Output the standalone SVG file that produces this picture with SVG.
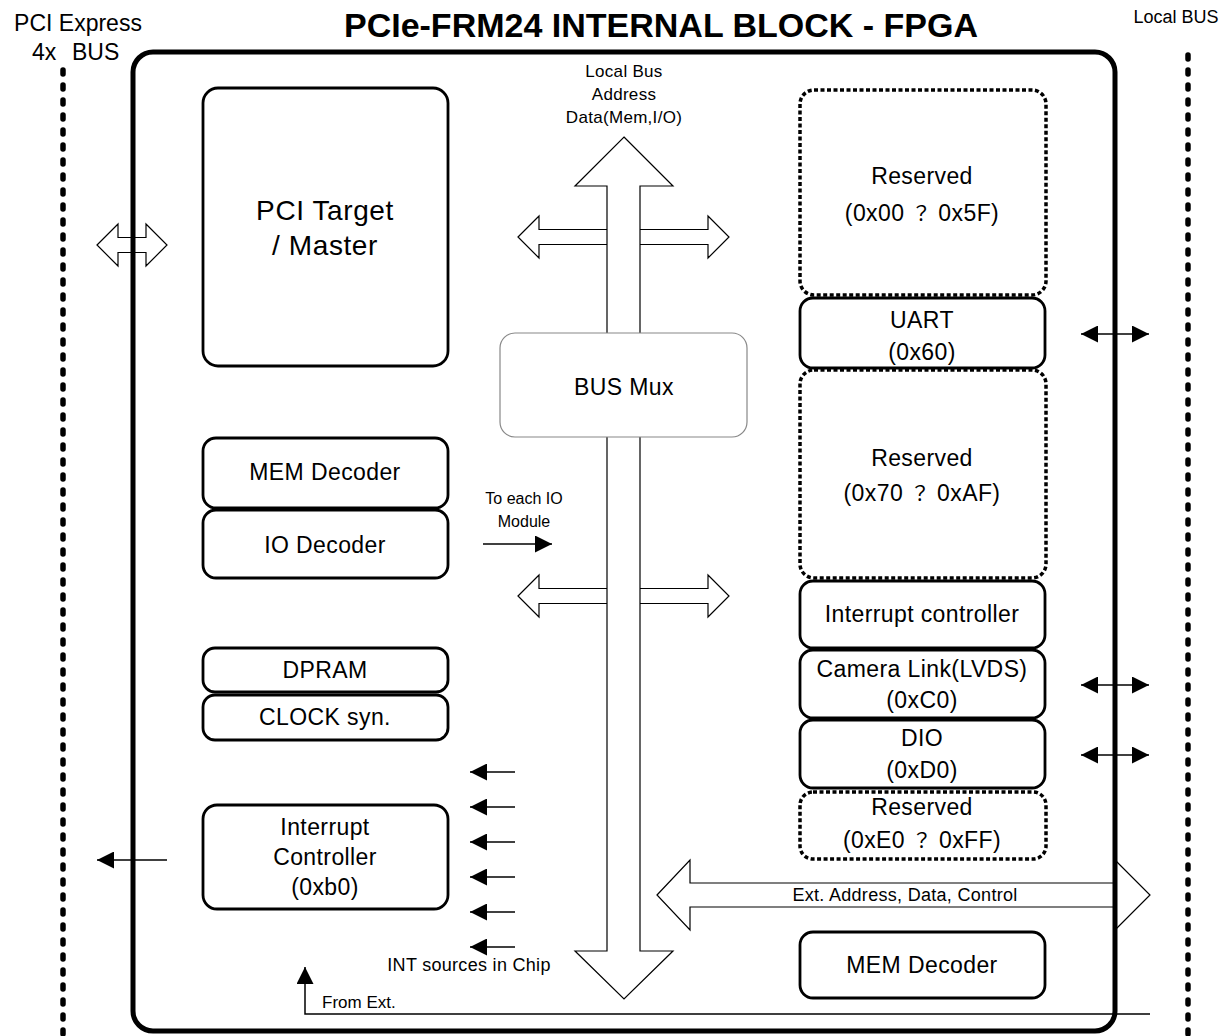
<svg xmlns="http://www.w3.org/2000/svg" width="1231" height="1036" viewBox="0 0 1231 1036">
<style>
text{font-family:"Liberation Sans",Arial,"Noto Sans CJK JP",sans-serif;fill:#000}
.c{text-anchor:middle}
.q{font-family:"Noto Sans CJK JP","Noto Sans CJK SC",sans-serif;font-size:20px}
.lbl{font-size:23px;letter-spacing:0.4px}
.big{font-size:28px;letter-spacing:0.6px}
.sm{font-size:17px;letter-spacing:0.3px}
.md{font-size:18px;letter-spacing:0.3px}
.box{fill:#fff;stroke:#000;stroke-width:2.8}
.dash{fill:#fff;stroke:#000;stroke-width:3.5;stroke-dasharray:4 2.5}
.hollow{fill:#fff;stroke:#000;stroke-width:1.2}
.ln{stroke:#000;stroke-width:1.5;fill:none}
.bus{stroke:#000;stroke-width:5.5;stroke-dasharray:4 11;stroke-linecap:round;fill:none}
</style>
<defs>
<marker id="ah" viewBox="0 0 10 10" refX="10" refY="5" markerWidth="24" markerHeight="17" markerUnits="userSpaceOnUse" orient="auto-start-reverse">
<path d="M0,0 L10,5 L0,10 z" fill="#000"/>
</marker>
</defs>
<rect width="1231" height="1036" fill="#fff"/>

<g id="titles">
<text x="661" y="37" class="c" style="font-size:34px;font-weight:bold">PCIe-FRM24 INTERNAL BLOCK - FPGA</text>
<text x="78" y="31" class="c" style="font-size:23px">PCI Express</text>
<text y="60" style="font-size:23px"><tspan x="32">4x</tspan><tspan x="72">BUS</tspan></text>
<text x="1176" y="23" class="c" style="font-size:18px">Local BUS</text>
</g>

<g id="buses">
<line class="bus" x1="63" y1="70" x2="63" y2="1036"/>
<line class="bus" x1="1188" y1="55" x2="1188" y2="1036"/>
</g>

<g id="connectors">
<polygon class="hollow" style="fill:none" points="97,245 118,224 118,237.5 146,237.5 146,224 167,245 146,266 146,252.5 118,252.5 118,266"/>
<polygon class="hollow" points="518,237 539,216 539,229.5 708,229.5 708,216 729,237 708,258 708,244.5 539,244.5 539,258"/>
<polygon class="hollow" points="518,596 539,575 539,588.5 708,588.5 708,575 729,596 708,617 708,603.5 539,603.5 539,617"/>
<polygon class="hollow" points="624,137 673,186 640,186 640,951 673,951 624,999 575,951 607,951 607,186 575,186"/>
<polygon class="hollow" points="657,895 690,860 690,883 1115,883 1115,860 1150,895 1115,930 1115,907 690,907 690,930"/>
<line class="ln" x1="483" y1="544" x2="552" y2="544" marker-end="url(#ah)"/>
<line class="ln" x1="515" y1="772" x2="470" y2="772" marker-end="url(#ah)"/>
<line class="ln" x1="515" y1="807" x2="470" y2="807" marker-end="url(#ah)"/>
<line class="ln" x1="515" y1="842" x2="470" y2="842" marker-end="url(#ah)"/>
<line class="ln" x1="515" y1="877" x2="470" y2="877" marker-end="url(#ah)"/>
<line class="ln" x1="515" y1="912" x2="470" y2="912" marker-end="url(#ah)"/>
<line class="ln" x1="515" y1="947" x2="470" y2="947" marker-end="url(#ah)"/>
<line class="ln" x1="167" y1="860" x2="97" y2="860" marker-end="url(#ah)"/>
<line class="ln" x1="1081" y1="334" x2="1149" y2="334" marker-start="url(#ah)" marker-end="url(#ah)"/>
<line class="ln" x1="1081" y1="685" x2="1149" y2="685" marker-start="url(#ah)" marker-end="url(#ah)"/>
<line class="ln" x1="1081" y1="755" x2="1149" y2="755" marker-start="url(#ah)" marker-end="url(#ah)"/>
<polyline class="ln" points="1150,1014 305,1014 305,967" marker-end="url(#ah)"/>
</g>

<g id="fpga">
<rect x="133" y="52" width="982" height="979" rx="20" fill="none" stroke="#000" stroke-width="5"/>
</g>

<g id="labels">
<text x="624" y="77" class="c sm">Local Bus</text>
<text x="624" y="100" class="c sm">Address</text>
<text x="624" y="123" class="c sm">Data(Mem,I/O)</text>
<text x="524" y="504" class="c" style="font-size:16px">To each IO</text>
<text x="524" y="527" class="c" style="font-size:16px">Module</text>
<text x="469" y="971" class="c md">INT sources in Chip</text>
<text x="322" y="1008" style="font-size:17px">From Ext.</text>
<text x="905" y="901" class="c md">Ext. Address, Data, Control</text>
</g>

<g id="pci-target">
<rect class="box" x="203" y="88" width="245" height="278" rx="15"/>
<text x="325" y="220" class="c big">PCI Target</text>
<text x="325" y="255" class="c big">/ Master</text>
</g>
<g id="bus-mux">
<rect x="500" y="333" width="247" height="104" rx="15" fill="#fff" stroke="#888" stroke-width="1.2"/>
<text x="624" y="395" class="c lbl">BUS Mux</text>
</g>
<g id="mem-decoder-l">
<rect class="box" x="203" y="438" width="245" height="70" rx="13"/>
<text x="325" y="480" class="c lbl">MEM Decoder</text>
</g>
<g id="io-decoder">
<rect class="box" x="203" y="510" width="245" height="68" rx="13"/>
<text x="325" y="553" class="c lbl">IO Decoder</text>
</g>
<g id="dpram">
<rect class="box" x="203" y="648" width="245" height="44" rx="12"/>
<text x="325" y="678" class="c lbl">DPRAM</text>
</g>
<g id="clock">
<rect class="box" x="203" y="695" width="245" height="45" rx="12"/>
<text x="325" y="725" class="c lbl">CLOCK syn.</text>
</g>
<g id="int-ctrl-l">
<rect class="box" x="203" y="805" width="245" height="104" rx="14"/>
<text x="325" y="835" class="c lbl">Interrupt</text>
<text x="325" y="865" class="c lbl">Controller</text>
<text x="325" y="895" class="c lbl">(0xb0)</text>
</g>

<g id="reserved-1">
<rect class="dash" x="800" y="90" width="246" height="205" rx="14"/>
<text x="922" y="184" class="c lbl">Reserved</text>
<text x="922" y="221" class="c lbl">(0x00 <tspan class="q">？</tspan> 0x5F)</text>
</g>
<g id="uart">
<rect class="box" x="800" y="298" width="245" height="70" rx="13"/>
<text x="922" y="328" class="c lbl">UART</text>
<text x="922" y="360" class="c lbl">(0x60)</text>
</g>
<g id="reserved-2">
<rect class="dash" x="800" y="370" width="246" height="208" rx="14"/>
<text x="922" y="466" class="c lbl">Reserved</text>
<text x="922" y="501" class="c lbl">(0x70 <tspan class="q">？</tspan> 0xAF)</text>
</g>
<g id="int-ctrl-r">
<rect class="box" x="800" y="581" width="245" height="67" rx="13"/>
<text x="922" y="622" class="c lbl">Interrupt controller</text>
</g>
<g id="camera-link">
<rect class="box" x="800" y="650" width="245" height="68" rx="13"/>
<text x="922" y="677" class="c lbl">Camera Link(LVDS)</text>
<text x="922" y="708" class="c lbl">(0xC0)</text>
</g>
<g id="dio">
<rect class="box" x="800" y="720" width="245" height="68" rx="13"/>
<text x="922" y="746" class="c lbl">DIO</text>
<text x="922" y="778" class="c lbl">(0xD0)</text>
</g>
<g id="reserved-3">
<rect class="dash" x="800" y="792" width="246" height="67" rx="13"/>
<text x="922" y="815" class="c lbl">Reserved</text>
<text x="922" y="848" class="c lbl">(0xE0 <tspan class="q">？</tspan> 0xFF)</text>
</g>
<g id="mem-decoder-r">
<rect class="box" x="800" y="932" width="245" height="66" rx="13"/>
<text x="922" y="973" class="c lbl">MEM Decoder</text>
</g>
</svg>
